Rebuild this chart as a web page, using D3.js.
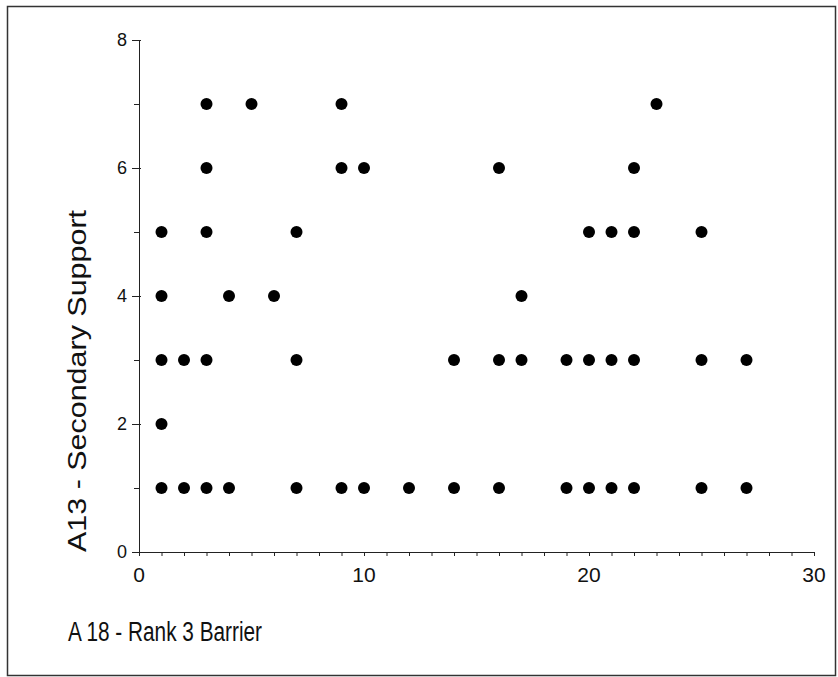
<!DOCTYPE html>
<html>
<head>
<meta charset="utf-8">
<script src="https://cdn.jsdelivr.net/npm/d3@7"></script>
<style>
	body { margin: 0; background: #fff; }
	text { font-family: "Liberation Sans", Arial, sans-serif; fill: #111; }
</style>
</head>
<body>
<script>
//A 18 - Rank 3 Barrier (x) against A13 - Secondary Support (y)
var rankBarrier = [
	3, 5, 9, 23,
	3, 9, 10, 16, 22,
	1, 3, 7, 20, 21, 22, 25,
	1, 4, 6, 17,
	1, 2, 3, 7, 14, 16, 17, 19, 20, 21, 22, 25, 27,
	1,
	1, 2, 3, 4, 7, 9, 10, 12, 14, 16, 19, 20, 21, 22, 25, 27
];
var secondarySupport = [
	7, 7, 7, 7,
	6, 6, 6, 6, 6,
	5, 5, 5, 5, 5, 5, 5,
	4, 4, 4, 4,
	3, 3, 3, 3, 3, 3, 3, 3, 3, 3, 3, 3, 3,
	2,
	1, 1, 1, 1, 1, 1, 1, 1, 1, 1, 1, 1, 1, 1, 1, 1
];
var xTicks = [0, 10, 20, 30];
var yTicks = [0, 2, 4, 6, 8];
var xTitle = "A 18 - Rank 3 Barrier";
var yTitle = "A13 - Secondary Support";

var width = 838,
	height = 677;

var svg = d3.select("body")
	.append("svg")
	.attr("width", width)
	.attr("height", height);

//outer frame
svg.append("rect")
	.attr("x", 7.5)
	.attr("y", 6.5)
	.attr("width", 828)
	.attr("height", 669)
	.attr("fill", "none")
	.attr("stroke", "#333")
	.attr("stroke-width", 1.5);

var x = d3.scaleLinear()
	.domain([0, 30])
	.range([139, 814]);

var y = d3.scaleLinear()
	.domain([0, 8])
	.range([552, 40]);

//x axis: a small tick at every unit, labels every 10
var xAxis = svg.append("g")
	.attr("transform", "translate(0,552)")
	.call(d3.axisBottom(x)
		.tickValues(d3.range(0, 31))
		.tickSize(4)
		.tickSizeOuter(0)
		.tickFormat(""));
xAxis.select(".domain").attr("stroke", "#222");
xAxis.selectAll(".tick line").attr("stroke", "#222");

svg.selectAll(".xlab")
	.data(xTicks)
	.enter()
	.append("text")
	.attr("class", "xlab")
	.attr("x", function(d){ return x(d); })
	.attr("y", 582)
	.attr("text-anchor", "middle")
	.style("font-size", "21px")
	.text(function(d){ return d; });

//y axis: major ticks with labels, minor ticks between
var yAxis = svg.append("g")
	.attr("transform", "translate(139,0)")
	.call(d3.axisLeft(y)
		.tickValues(d3.range(0, 9))
		.tickSize(6)
		.tickSizeOuter(0)
		.tickFormat(""));
yAxis.select(".domain").attr("stroke", "#222");
yAxis.selectAll(".tick line")
	.attr("stroke", "#222")
	.attr("x1", function(d){ return d % 2 == 0 ? 2 : 0; })
	.attr("x2", function(d){ return d % 2 == 0 ? -7 : -5; });

svg.selectAll(".ylab")
	.data(yTicks)
	.enter()
	.append("text")
	.attr("class", "ylab")
	.attr("x", 127)
	.attr("y", function(d){ return y(d); })
	.attr("dy", "0.36em")
	.attr("text-anchor", "end")
	.style("font-size", "18px")
	.text(function(d){ return d; });

//points
svg.selectAll(".dot")
	.data(rankBarrier)
	.enter()
	.append("circle")
	.attr("class", "dot")
	.attr("cx", function(d){ return x(d); })
	.attr("cy", function(d, i){ return y(secondarySupport[i]); })
	.attr("r", 6)
	.attr("fill", "#000");

//axis titles
svg.append("text")
	.attr("x", 68)
	.attr("y", 641)
	.attr("textLength", 194)
	.attr("lengthAdjust", "spacingAndGlyphs")
	.style("font-size", "27px")
	.text(xTitle);

svg.append("text")
	.attr("transform", "translate(86,552) rotate(-90)")
	.attr("textLength", 342)
	.attr("lengthAdjust", "spacingAndGlyphs")
	.style("font-size", "26px")
	.text(yTitle);
</script>
</body>
</html>
